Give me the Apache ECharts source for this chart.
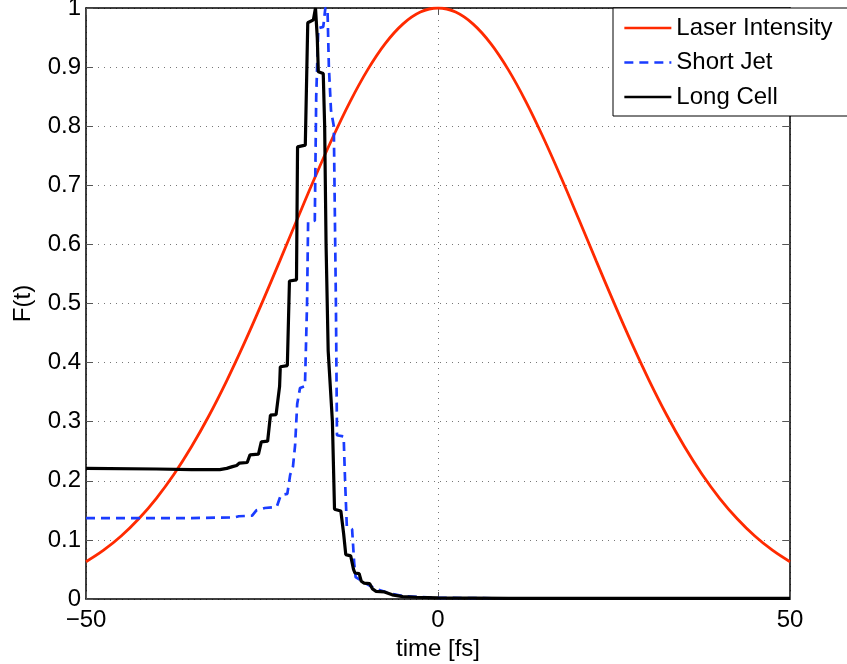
<!DOCTYPE html>
<html>
<head>
<meta charset="utf-8">
<script src="https://cdn.jsdelivr.net/npm/echarts@6/dist/echarts.min.js"></script>
<style>
html,body{margin:0;padding:0;background:#fff;}
#chart{width:847px;height:664px;}
</style>
</head>
<body>
<div id="chart"></div>
<script>
// ---- data ----
var xTicks = [-50, 0, 50];
var laserTime = [-50,-47.5,-45,-42.5,-40,-37.5,-35,-32.5,-30,-27.5,-25,-22.5,-20,-17.5,-15,-12.5,-10,-7.5,-5,-2.5,0,2.5,5,7.5,10,12.5,15,17.5,20,22.5,25,27.5,30,32.5,35,37.5,40,42.5,45,47.5,50];
var laserValues = [0.063,0.0825,0.1065,0.1357,0.1704,0.2111,0.258,0.3109,0.3696,0.4333,0.501,0.5713,0.6425,0.7127,0.7796,0.8413,0.8953,0.9397,0.9727,0.9931,1.0,0.9931,0.9727,0.9397,0.8953,0.8413,0.7796,0.7127,0.6425,0.5713,0.501,0.4333,0.3696,0.3109,0.258,0.2111,0.1704,0.1357,0.1065,0.0825,0.063];

var jetTime = [-50,-35,-29,-28.3,-26.4,-25.8,-24.6,-22.9,-22.5,-22.3,-21.4,-21.0,-20.6,-20.3,-20.0,-19.6,-18.9,-18.6,-18.45,-17.5,-17.3,-17.0,-16.3,-16.0,-15.7,-15.5,-15.2,-14.8,-14.5,-14.35,-13.4,-13.2,-12.95,-12.2,-11.9,-11.7,-10.5,-9,-7,-5,0,10,50];
var jetValues = [0.137,0.137,0.138,0.140,0.141,0.150,0.154,0.156,0.170,0.176,0.178,0.21,0.224,0.26,0.33,0.357,0.360,0.5,0.638,0.640,0.85,0.966,0.968,1.0,1.0,0.9,0.827,0.8,0.5,0.277,0.275,0.2,0.122,0.118,0.06,0.037,0.028,0.018,0.01,0.005,0.002,0.001,0.001];

var cellTime = [-50,-40,-35,-31,-30,-29.2,-28.6,-28.2,-27.1,-26.7,-25.5,-25.1,-24.2,-23.8,-23.0,-22.5,-22.4,-21.4,-21.1,-20.1,-19.95,-18.85,-18.5,-17.7,-17.4,-17.15,-17.0,-16.3,-16.1,-15.9,-15.6,-15.0,-14.7,-13.8,-13.4,-13.1,-12.4,-12.0,-11.8,-11.2,-10.9,-10.5,-9.7,-9.3,-8.8,-7.6,-6.5,-5,-3,0,10,50];
var cellValues = [0.221,0.220,0.219,0.219,0.221,0.224,0.226,0.230,0.231,0.244,0.245,0.266,0.267,0.311,0.312,0.36,0.393,0.395,0.538,0.540,0.765,0.768,0.975,0.980,1.0,0.95,0.892,0.889,0.8,0.6,0.42,0.3,0.152,0.149,0.11,0.075,0.073,0.05,0.044,0.043,0.030,0.027,0.026,0.017,0.013,0.012,0.007,0.004,0.003,0.002,0.001,0.001];

function pairs(xs, ys){ return xs.map(function(x,i){ return [x, ys[i]]; }); }

var FONT = 'Liberation Sans';
var chart = echarts.init(document.getElementById('chart'), null, {renderer:'canvas'});
var gridLine = {show:true, lineStyle:{color:'#777', type:[1,5], width:1}};
var option = {
  animation:false,
  backgroundColor:'#fff',
  textStyle:{fontFamily:FONT},
  grid:{left:86, right:57, top:8, bottom:65, containLabel:false, outerBoundsMode:'none'},
  legend:{
    orient:'vertical', left:613, top:8,
    padding:[8,20,7,10],
    itemWidth:47, itemHeight:24, itemGap:10.5,
    borderColor:'#000', borderWidth:1, backgroundColor:'#fff',
    itemStyle:{opacity:0},
    lineStyle:{width:2.7},
    textStyle:{fontFamily:FONT, fontSize:24, color:'#000', lineHeight:24},
    data:['Laser Intensity','Short Jet','Long Cell']
  },
  xAxis:[{
    type:'value', min:-50, max:50, interval:50,
    name:'time [fs]', nameLocation:'middle', nameGap:31,
    nameTextStyle:{fontFamily:FONT, fontSize:24, color:'#000'},
    axisLine:{show:true, onZero:false, lineStyle:{color:'#000', width:1.5}},
    axisTick:{show:true, inside:true, length:7, lineStyle:{color:'#555'}},
    axisLabel:{fontFamily:FONT, fontSize:24, color:'#000', margin:9,
      formatter:function(v){ return v<0 ? '\u2212'+Math.abs(v) : String(v); }},
    splitLine:gridLine
  },{
    type:'value', min:-50, max:50, interval:50, position:'top',
    axisLine:{show:true, onZero:false, lineStyle:{color:'#000', width:1.5}},
    axisTick:{show:true, inside:true, length:7, lineStyle:{color:'#555'}},
    axisLabel:{show:false}, splitLine:{show:false}
  }],
  yAxis:[{
    type:'value', min:0, max:1, interval:0.1,
    name:'F(t)', nameLocation:'middle', nameGap:51,
    nameTextStyle:{fontFamily:FONT, fontSize:24, color:'#000'},
    axisLine:{show:true, onZero:false, lineStyle:{color:'#000', width:1.5}},
    axisTick:{show:true, inside:true, length:7, lineStyle:{color:'#555'}},
    axisLabel:{fontFamily:FONT, fontSize:24, color:'#000', margin:5},
    splitLine:gridLine
  },{
    type:'value', min:0, max:1, interval:0.1, position:'right',
    axisLine:{show:true, onZero:false, lineStyle:{color:'#000', width:1.5}},
    axisTick:{show:true, inside:true, length:7, lineStyle:{color:'#555'}},
    axisLabel:{show:false}, splitLine:{show:false}
  }],
  series:[
    {name:'Laser Intensity', type:'line', data:pairs(laserTime, laserValues), smooth:0.4,
     symbol:'none', lineStyle:{color:'#ff2a00', width:2.8}, itemStyle:{color:'#ff2a00'}},
    {name:'Short Jet', type:'line', data:pairs(jetTime, jetValues),
     symbol:'none', lineStyle:{color:'#1a3cff', width:2.7, type:[9,6]}, itemStyle:{color:'#1a3cff'}},
    {name:'Long Cell', type:'line', data:pairs(cellTime, cellValues),
     symbol:'none', lineStyle:{color:'#000', width:3.2}, itemStyle:{color:'#000'}}
  ]
};
chart.setOption(option);
</script>
</body>
</html>
